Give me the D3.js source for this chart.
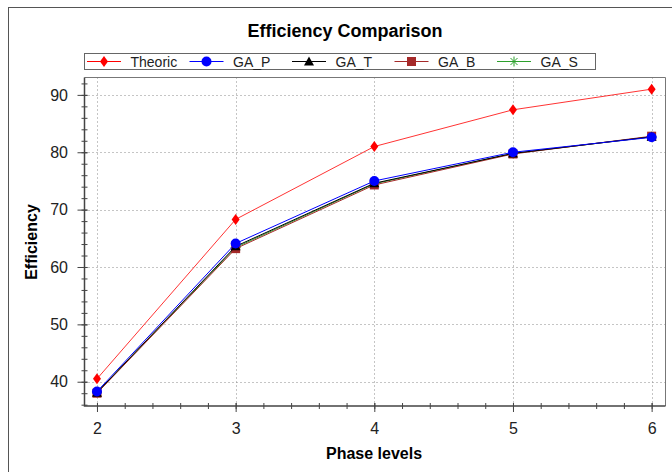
<!DOCTYPE html>
<html>
<head>
<meta charset="utf-8">
<script src="https://cdn.jsdelivr.net/npm/d3@7"></script>
<style>
  body { margin: 0; background: #fff; }
  svg { display: block; font-family: "Liberation Sans", Arial, sans-serif; }
</style>
</head>
<body>
<div id="chart"></div>
<script>
// data
var phaseLevels = [2, 3, 4, 5, 6];
var theoric = [40.5, 68.3, 81.0, 87.4, 91.0];
var gaP = [38.3, 64.1, 75.0, 80.0, 82.6];
var gaT = [38.1, 63.6, 74.6, 79.8, 82.7];
var gaB = [38.0, 63.2, 74.3, 79.7, 82.8];
var gaS = [38.1, 63.4, 74.5, 79.8, 82.7];

var xMajor = [2, 3, 4, 5, 6];
var yMajor = [40, 50, 60, 70, 80, 90];

var series = [
  { name: "GA_S", values: gaS, color: "#2ca02c", marker: "star" },
  { name: "GA_B", values: gaB, color: "#a52a2a", marker: "square" },
  { name: "GA_T", values: gaT, color: "#000000", marker: "triangle" },
  { name: "GA_P", values: gaP, color: "#0000ff", marker: "circle" },
  { name: "Theoric", values: theoric, color: "#ff0000", marker: "diamond" }
];
var legendOrder = ["Theoric", "GA_P", "GA_T", "GA_B", "GA_S"];

var W = 672, H = 472;
var pLeft = 84.5, pRight = 665.5, pTop = 77.5, pBottom = 406;

var svg = d3.select("#chart").append("svg")
  .attr("width", W)
  .attr("height", H);

// outer frame
svg.append("rect")
  .attr("x", 8.5).attr("y", 7.5)
  .attr("width", 700).attr("height", 500)
  .attr("fill", "#fff")
  .attr("stroke", "#555");

var x = d3.scaleLinear().domain([1.91, 6.10]).range([pLeft, pRight]);
var y = d3.scaleLinear().domain([35.77, 93.03]).range([pBottom, pTop]);

// title
svg.append("text")
  .attr("x", 345).attr("y", 37)
  .attr("text-anchor", "middle")
  .style("font-size", "18px")
  .style("font-weight", "bold")
  .text("Efficiency Comparison");

// grid
var grid = svg.append("g").attr("stroke", "#8a8a8a").attr("stroke-dasharray", "1,3");
grid.selectAll(".gx").data(xMajor).enter().append("line")
  .attr("x1", function (d) { return Math.round(x(d)) + 0.5; })
  .attr("x2", function (d) { return Math.round(x(d)) + 0.5; })
  .attr("y1", pTop).attr("y2", pBottom);
grid.selectAll(".gy").data(yMajor).enter().append("line")
  .attr("y1", function (d) { return Math.round(y(d)) + 0.5; })
  .attr("y2", function (d) { return Math.round(y(d)) + 0.5; })
  .attr("x1", pLeft).attr("x2", pRight);

// plot frame top/right
svg.append("path")
  .attr("d", "M" + pLeft + "," + pTop + "H" + pRight + "V" + pBottom)
  .attr("fill", "none")
  .attr("stroke", "#777");

// y axis: minor ticks
var yMinor = d3.range(36, 93, 2);
svg.append("g")
  .attr("transform", "translate(" + (pLeft + 3) + ",0)")
  .call(d3.axisLeft(y).tickValues(yMinor).tickSize(6).tickFormat(""))
  .call(function (g) { g.select(".domain").remove(); g.selectAll("line").attr("stroke", "#444"); });
// y axis: major ticks + labels
svg.append("g")
  .attr("transform", "translate(" + (pLeft + 3) + ",0)")
  .call(d3.axisLeft(y).tickValues(yMajor).tickSize(10).tickPadding(9.5))
  .call(function (g) {
    g.select(".domain").remove();
    g.selectAll("line").attr("stroke", "#444");
    g.selectAll("text").style("font-size", "16px").attr("fill", "#222")
      .style("font-family", "'Liberation Sans', Arial, sans-serif");
  });

// x axis: minor ticks
var xMinor = d3.range(20, 61, 2).map(function (d) { return d / 10; });
svg.append("g")
  .attr("transform", "translate(0," + (pBottom - 3) + ")")
  .call(d3.axisBottom(x).tickValues(xMinor).tickSize(6).tickFormat(""))
  .call(function (g) { g.select(".domain").remove(); g.selectAll("line").attr("stroke", "#444"); });
// x axis: major ticks + labels
svg.append("g")
  .attr("transform", "translate(0," + (pBottom - 3) + ")")
  .call(d3.axisBottom(x).tickValues(xMajor).tickSize(9).tickPadding(10.5).tickFormat(d3.format("d")))
  .call(function (g) {
    g.select(".domain").remove();
    g.selectAll("line").attr("stroke", "#444");
    g.selectAll("text").style("font-size", "16px").attr("fill", "#222")
      .style("font-family", "'Liberation Sans', Arial, sans-serif");
  });

// axis lines
svg.append("path")
  .attr("d", "M" + pLeft + "," + pTop + "V" + pBottom + "H" + pRight)
  .attr("fill", "none")
  .attr("stroke", "#444")
  .attr("stroke-width", 1.5);

// axis titles
svg.append("text")
  .attr("x", 374).attr("y", 459)
  .attr("text-anchor", "middle")
  .style("font-size", "16px")
  .style("font-weight", "bold")
  .text("Phase levels");
svg.append("text")
  .attr("transform", "translate(36.5,242) rotate(-90)")
  .attr("text-anchor", "middle")
  .style("font-size", "16px")
  .style("font-weight", "bold")
  .text("Efficiency");

// marker drawing
function drawMarker(g, type, color) {
  if (type === "diamond") {
    g.append("path").attr("d", "M0,-5.5L4,0L0,5.5L-4,0Z").attr("fill", color);
  } else if (type === "circle") {
    g.append("circle").attr("r", 5).attr("fill", color);
  } else if (type === "square") {
    g.append("rect").attr("x", -4.5).attr("y", -4.5).attr("width", 9).attr("height", 9).attr("fill", color);
  } else if (type === "triangle") {
    g.append("path").attr("d", "M0,-5L5,4L-5,4Z").attr("fill", color);
  } else if (type === "star") {
    g.append("path")
      .attr("d", "M-5,0H5M0,-5V5M-3.5,-3.5L3.5,3.5M-3.5,3.5L3.5,-3.5")
      .attr("stroke", color).attr("stroke-width", 1).attr("fill", "none");
  }
}

var line = d3.line()
  .x(function (d, i) { return x(phaseLevels[i]); })
  .y(function (d) { return y(d); });

series.forEach(function (s) {
  svg.append("path")
    .datum(s.values)
    .attr("d", line)
    .attr("fill", "none")
    .attr("stroke", s.color)
    .attr("stroke-width", 1)
    .attr("opacity", s.name === "Theoric" ? 0.8 : 1);
  s.values.forEach(function (v, i) {
    var g = svg.append("g").attr("transform", "translate(" + x(phaseLevels[i]) + "," + y(v) + ")");
    drawMarker(g, s.marker, s.color);
  });
});

// legend
var legend = svg.append("g");
legend.append("rect")
  .attr("x", 84.5).attr("y", 53.5)
  .attr("width", 511).attr("height", 16)
  .attr("fill", "#fff")
  .attr("stroke", "#666");
legendOrder.forEach(function (name, i) {
  var s = series.filter(function (d) { return d.name === name; })[0];
  var x0 = 87 + i * 102.5;
  var item = legend.append("g").attr("transform", "translate(" + x0 + ",61.5)");
  item.append("line").attr("x1", 0).attr("x2", 34).attr("y1", 0).attr("y2", 0)
    .attr("stroke", s.color).attr("stroke-width", 1);
  drawMarker(item.append("g").attr("transform", "translate(17,0)"), s.marker, s.color);
  item.append("text")
    .attr("x", 43.5).attr("y", 5)
    .style("font-size", "14px")
    .attr("fill", "#222")
    .text(name);
});
</script>
</body>
</html>
